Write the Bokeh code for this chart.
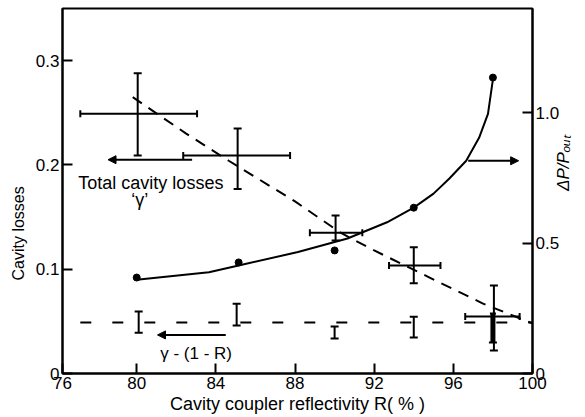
import math
from bokeh.plotting import figure
from bokeh.models import (Range1d, LinearAxis, FixedTicker, CustomJSTickFormatter, Title,
                          Label, Arrow, NormalHead, Whisker, TeeHead, ColumnDataSource)
from bokeh.embed import file_html
from bokeh.resources import INLINE

FONT = "Liberation Sans"

# ---------------- data ----------------
# axis ticks
x_ticks = [76.25, 80, 84, 88, 92, 96, 100]
y_left_ticks = [0, 0.1, 0.2, 0.3]
y_right_ticks = [0, 0.5, 1.0]

# total cavity losses 'gamma' (crosses with error bars)
tot_R = [80.05, 85.1, 90.05, 94.0, 98.05]
tot_g = [0.249, 0.209, 0.135, 0.1035, 0.0547]
tot_R_lo = [77.15, 82.35, 88.75, 92.75, 96.6]
tot_R_hi = [83.05, 87.75, 91.4, 95.35, 99.35]
tot_g_lo = [0.209, 0.177, 0.1275, 0.0865, 0.022]
tot_g_hi = [0.288, 0.235, 0.1515, 0.121, 0.0844]

# dashed trend through total losses
trend_R = [79.8, 82.5, 84.65, 88.0, 90.3, 92.0, 94.8, 97.5, 100.0]
trend_g = [0.265, 0.230, 0.204, 0.165, 0.135, 0.118, 0.092, 0.067, 0.048]

# gamma - (1 - R) error bars
res_R = [80.1, 85.05, 90.0, 94.0]
res_lo = [0.039, 0.046, 0.0335, 0.0345]
res_hi = [0.0595, 0.067, 0.045, 0.0545]
res98_R = [98.0]
res98_lo = [0.0297]
res98_hi = [0.0575]

# horizontal dashed level of gamma - (1 - R)
level_R = [77.15, 100.0]
level_g = [0.049, 0.049]

# Delta P / P_out measured points (right axis)
dp_R = [80.0, 85.15, 90.0, 94.0, 98.0]
dp_val = [0.368, 0.426, 0.472, 0.636, 1.135]

# solid curve through Delta P / P_out (right axis)
fit_R = [80.0, 83.65, 85.15, 88.15, 90.65, 92.65, 94.0, 95.0, 95.8, 96.65, 97.3, 97.75, 98.0]
fit_val = [0.36, 0.388, 0.414, 0.466, 0.518, 0.58, 0.636, 0.69, 0.748, 0.816, 0.904, 0.996, 1.128]

# arrows (left-axis units)
arr_x0 = [82.8, 96.75, 84.5]
arr_x1 = [78.55, 99.3, 81.05]
arr_y = [0.205, 0.204, 0.037]

# ---------------- figure ----------------
p = figure(width=585, height=417,
           x_range=Range1d(76.25, 100), y_range=Range1d(0, 0.35),
           output_backend="svg", toolbar_location=None,
           min_border_left=62, min_border_right=48,
           min_border_top=8, min_border_bottom=44,
           background_fill_color="white", border_fill_color="white")
p.grid.visible = False
p.outline_line_color = "black"
p.outline_line_width = 2
p.extra_y_ranges = {"right": Range1d(0, 1.4)}
p.add_layout(LinearAxis(y_range_name="right"), "right")

p.xaxis.ticker = FixedTicker(ticks=x_ticks)
p.xaxis.formatter = CustomJSTickFormatter(code="return Math.round(tick).toFixed(0);")
p.yaxis[0].ticker = FixedTicker(ticks=y_left_ticks)
p.yaxis[1].ticker = FixedTicker(ticks=y_right_ticks)
for ax in p.yaxis:
    ax.formatter = CustomJSTickFormatter(code="return tick == 0 ? '0' : tick.toFixed(1);")

for ax in list(p.xaxis) + list(p.yaxis):
    ax.axis_line_width = 2
    ax.axis_line_color = "black"
    ax.major_tick_in = 10
    ax.major_tick_out = 0
    ax.major_tick_line_width = 2
    ax.major_tick_line_color = "black"
    ax.minor_tick_line_color = None
    ax.major_label_text_font = FONT
    ax.major_label_text_font_size = "17px"
    ax.major_label_text_color = "black"
    ax.major_label_standoff = 3

# bottom title (shifted right a little, like the reference)
p.add_layout(Title(text="Cavity coupler reflectivity R( % )", align="center", offset=10,
                   standoff=0, text_font=FONT, text_font_size="18px",
                   text_font_style="normal", text_color="black"), "below")

# right title on a tick-less companion axis, reading bottom-to-top
title_axis = LinearAxis(y_range_name="right", bounds=(0.3346, 0.5346),
                        ticker=FixedTicker(ticks=[]),
                        axis_line_color=None, major_tick_line_color=None,
                        minor_tick_line_color=None, major_label_standoff=0,
                        major_tick_in=0, major_tick_out=0,
                        axis_label="\u0394P/P\u2092\u1d64\u209c",
                        axis_label_text_font=FONT, axis_label_text_font_size="17px",
                        axis_label_text_font_style="italic", axis_label_text_color="black",
                        axis_label_standoff=1)
if "axis_label_orientation" in title_axis.properties():
    title_axis.axis_label_orientation = math.pi / 2
p.add_layout(title_axis, "right")

# left title, shifted downward like the reference
p.add_layout(Title(text="Cavity losses", align="left", offset=93, standoff=12,
                   text_font=FONT, text_font_size="16px", text_font_style="normal",
                   text_color="black"), "left")

# dashed trend
p.line(trend_R, trend_g, line_color="black", line_width=2, line_dash="11 8")
# dashed level
p.line(level_R, level_g, line_color="black", line_width=2, line_dash="11 21")

# total loss crosses
tot_src = ColumnDataSource(dict(R=tot_R, g=tot_g, Rlo=tot_R_lo, Rhi=tot_R_hi,
                                glo=tot_g_lo, ghi=tot_g_hi))
p.add_layout(Whisker(source=tot_src, base="R", lower="glo", upper="ghi", dimension="height",
                     line_width=2, line_color="black",
                     upper_head=TeeHead(size=8, line_width=2, line_color="black"),
                     lower_head=TeeHead(size=8, line_width=2, line_color="black")))
p.add_layout(Whisker(source=tot_src, base="g", lower="Rlo", upper="Rhi", dimension="width",
                     line_width=2, line_color="black",
                     upper_head=TeeHead(size=7, line_width=2, line_color="black"),
                     lower_head=TeeHead(size=7, line_width=2, line_color="black")))

# gamma-(1-R) bars
res_src = ColumnDataSource(dict(R=res_R, lo=res_lo, hi=res_hi))
p.add_layout(Whisker(source=res_src, base="R", lower="lo", upper="hi", dimension="height",
                     line_width=2, line_color="black",
                     upper_head=TeeHead(size=8, line_width=2, line_color="black"),
                     lower_head=TeeHead(size=8, line_width=2, line_color="black")))
res98_src = ColumnDataSource(dict(R=res98_R, lo=res98_lo, hi=res98_hi))
p.add_layout(Whisker(source=res98_src, base="R", lower="lo", upper="hi", dimension="height",
                     line_width=5, line_color="black",
                     upper_head=TeeHead(size=6, line_width=2, line_color="black"),
                     lower_head=TeeHead(size=8, line_width=2, line_color="black")))

# Delta P / P_out curve and points
p.line(fit_R, fit_val, y_range_name="right", line_color="black", line_width=2)
p.scatter(dp_R, dp_val, y_range_name="right", size=7, marker="circle",
          fill_color="black", line_color="black")

# arrows
arr_src = ColumnDataSource(dict(x0=arr_x0, x1=arr_x1, y=arr_y))
p.add_layout(Arrow(source=arr_src, x_start="x0", y_start="y", x_end="x1", y_end="y",
                   line_width=2, line_color="black",
                   end=NormalHead(size=8, fill_color="black", line_color="black", line_width=1)))

# in-plot texts
def add_text(text, x, y, size="17px", align="left", baseline="alphabetic", style="normal"):
    p.add_layout(Label(x=x, y=y, text=text, text_font=FONT, text_font_size=size,
                       text_align=align, text_baseline=baseline,
                       text_font_style=style, text_color="black"))

add_text("Total cavity losses", 77.05, 0.183, size="18px")
add_text("\u2018\u03b3\u2019", 80.15, 0.166, size="18px", align="center")
add_text("\u03b3 - (1 - R)", 83.0, 0.0192, size="17px", align="center")

open("out.html", "w").write(file_html(p, INLINE))
